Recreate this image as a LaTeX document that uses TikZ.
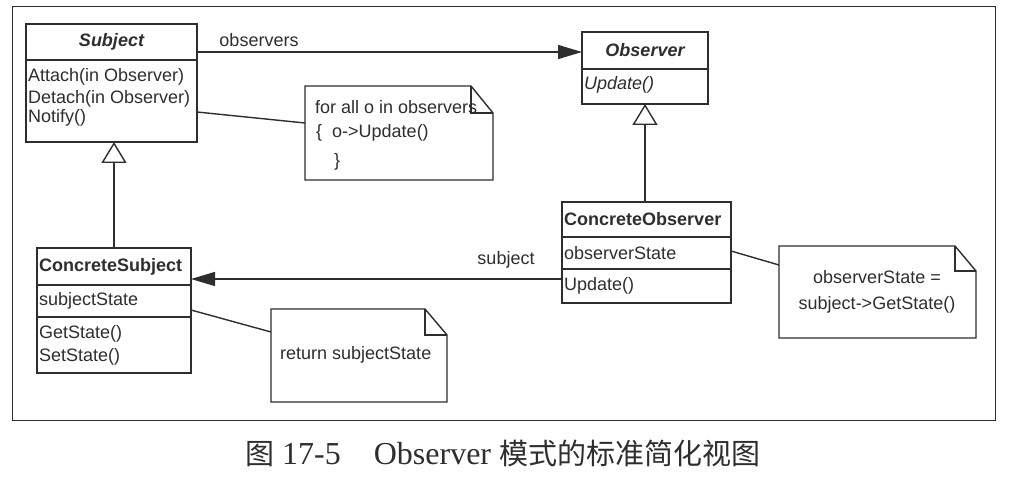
\documentclass[tikz,border=0pt]{standalone}
\usepackage{fontspec}
\setmainfont{Liberation Sans}
\newfontfamily\cjk{Noto Sans CJK SC}
\newfontfamily\capserif{Liberation Serif}
\usetikzlibrary{arrows.meta,calc}
\definecolor{ink}{HTML}{2E2E2E}
\tikzset{
  boxshape/.style={draw=ink, line width=1.4pt, fill=white, inner sep=0pt, outer sep=0pt, anchor=north west},
  notebox/.style={inner sep=0pt, outer sep=0pt, anchor=north west},
  member/.style={anchor=west, inner sep=0pt, text=ink, font=\fontsize{18}{22}\selectfont},
  title/.style={inner sep=0pt, text=ink, font=\fontsize{18}{22}\selectfont\bfseries},
  lbl/.style={inner sep=0pt, text=ink, font=\fontsize{18}{22}\selectfont},
  conn/.style={draw=ink, line width=1.4pt},
  assoc/.style={conn, -{Triangle[length=24pt,width=14pt]}},
  inherit/.style={conn, -{Triangle[length=21pt,width=25pt,fill=white]}},
  notepath/.style={draw=ink, line width=1.4pt, line join=miter},
}
\newcommand{\drawnote}[3]{% name, fold width, fold height
  \draw[notepath] (#1.north west) -- ($(#1.north east)+(-#2,0)$) -- ($(#1.north east)+(0,#3)$) -- (#1.south east) -- (#1.south west) -- cycle;
  \draw[notepath] ($(#1.north east)+(-#2,0)$) -- ($(#1.north east)+(-#2,#3)$) -- ($(#1.north east)+(0,#3)$);
}
\begin{document}
\begin{tikzpicture}[x=1pt,y=-1pt]
\useasboundingbox[fill=white] (0,0) rectangle (1024,486);
% outer frame
\node[draw=ink, line width=1.4pt, minimum width=983pt, minimum height=414pt, inner sep=0pt, anchor=north west] (frame) at (12,6) {};

% Subject
\node[boxshape, minimum width=171pt, minimum height=118pt] (subject) at (26,24) {};
\draw[conn] (subject.west |- 0,60) -- (subject.east |- 0,60);
\node[title, font=\fontsize{18}{22}\selectfont\bfseries\itshape] (subjectname) at (111.5,42) {Subject};
\node[member] (attach) at (28,77) {Attach(in Observer)};
\node[member] (detach) at (28,99) {Detach(in Observer)};
\node[member] (notify) at (28,118) {Notify()};

% Observer
\node[boxshape, minimum width=126pt, minimum height=72pt] (observer) at (582,32) {};
\draw[conn] (observer.west |- 0,69) -- (observer.east |- 0,69);
\node[title, font=\fontsize{18}{22}\selectfont\bfseries\itshape] (observername) at (645,50) {Observer};
\node[member, font=\fontsize{18}{22}\selectfont\itshape] (oupdate) at (584,85) {Update()};

% ConcreteObserver
\node[boxshape, minimum width=169pt, minimum height=101pt] (cobserver) at (562,202) {};
\draw[conn] (cobserver.west |- 0,237) -- (cobserver.east |- 0,237);
\draw[conn] (cobserver.west |- 0,269) -- (cobserver.east |- 0,269);
\node[member, font=\fontsize{18}{22}\selectfont\bfseries] (cobservername) at (564,219) {ConcreteObserver};
\node[member] (obsstate) at (564,253) {observerState};
\node[member] (cupdate) at (564,286) {Update()};

% ConcreteSubject
\node[boxshape, minimum width=154pt, minimum height=125pt] (csubject) at (37,248) {};
\draw[conn] (csubject.west |- 0,285) -- (csubject.east |- 0,285);
\draw[conn] (csubject.west |- 0,317) -- (csubject.east |- 0,317);
\node[member, font=\fontsize{18}{22}\selectfont\bfseries] (csubjectname) at (39,267) {ConcreteSubject};
\node[member] (substate) at (39,301) {subjectState};
\node[member] (getstate) at (39,334) {GetState()};
\node[member] (setstate) at (39,357) {SetState()};

% Notes
\node[notebox, minimum width=188pt, minimum height=94pt] (note1) at (305,86) {};
\drawnote{note1}{22}{27}
\node[member] (n1a) at (315,107) {for all o in observers};
\node[member] (n1b) at (316,133) {\{\hspace{10pt}o->Update()};
\node[member] (n1c) at (334,162) {\}};

\node[notebox, minimum width=176pt, minimum height=93pt] (note2) at (271,309) {};
\drawnote{note2}{22}{26}
\node[member] (n2a) at (280,355) {return subjectState};

\node[notebox, minimum width=197pt, minimum height=92pt] (note3) at (779,246) {};
\drawnote{note3}{21}{25}
\node[lbl, align=center, font=\fontsize{18}{26}\selectfont] (n3a) at (877,292) {observerState =\\subject->GetState()};

% Associations
\coordinate (obsA) at (subject.east |- 0,52);
\coordinate (obsB) at (observer.west |- 0,52);
\draw[assoc] (obsA) -- (obsB);
\node[lbl] (obslbl) at (259,40) {observers};

\coordinate (subA) at (cobserver.west |- 0,279);
\coordinate (subB) at (csubject.east |- 0,279);
\draw[assoc] (subA) -- (subB);
\node[lbl] (sublbl) at (506,260) {subject};

% Inheritance
\draw[inherit] (csubject.north) -- (csubject.north |- subject.south);
\draw[inherit] (observer.south |- cobserver.north) -- (observer.south);

% Note connectors
\draw[conn] (subject.east |- 0,112) -- (note1.west |- 0,123);
\draw[conn] (csubject.east |- 0,310) -- (note2.west |- 0,332);
\draw[conn] (cobserver.east |- 0,251) -- (note3.west |- 0,265);

% Caption
\node[anchor=west, inner sep=0pt, text=ink] (caption) at (245,453)
  {{\cjk\fontsize{29}{32}\selectfont 图}\capserif\fontsize{32}{36}\selectfont\ 17-5\hspace{33pt}Observer {\cjk\fontsize{29}{32}\selectfont 模式的标准简化视图}};
\end{tikzpicture}
\end{document}
